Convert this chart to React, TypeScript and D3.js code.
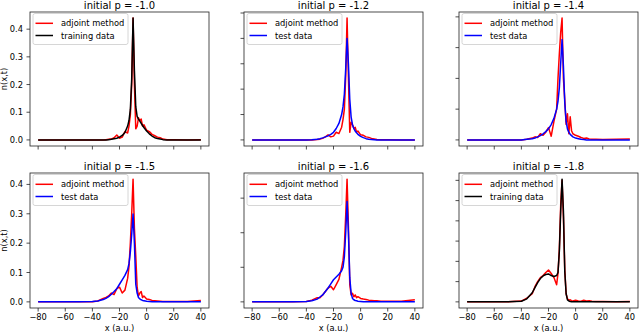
import React from "react";
import * as d3 from "d3";

// shared x grid (a.u.)
const xGrid = [-80, -50, -40, -36, -32, -30, -28, -26, -24, -22, -20, -18, -16, -14, -13, -12, -11, -10, -9, -8, -7, -6, -5, -4, -3, -2, 0, 2, 4, 6, 8, 10, 12, 15, 20, 30, 40];

// p = -1.0
const adjoint10 = [0, 0, 0, 0, 0, 0.001, 0.002, 0.003, 0.008, 0.018, 0.006, 0.01, 0.03, 0.025, 0.05, 0.09, 0.2, 0.44, 0.2, 0.04, 0.05, 0.08, 0.07, 0.075, 0.05, 0.055, 0.035, 0.03, 0.02, 0.015, 0.01, 0.008, 0.003, 0.001, 0.001, 0, 0.001];
const train10 = [0, 0, 0, 0, 0, 0, 0.001, 0.002, 0.004, 0.006, 0.01, 0.016, 0.027, 0.05, 0.07, 0.11, 0.22, 0.44, 0.25, 0.12, 0.085, 0.075, 0.068, 0.06, 0.052, 0.045, 0.032, 0.022, 0.014, 0.008, 0.005, 0.003, 0.001, 0, 0, 0, 0];
// p = -1.2
const adjoint12 = [0, 0, 0, 0, 0.002, 0.003, 0.006, 0.012, 0.02, 0.012, 0.015, 0.03, 0.025, 0.05, 0.08, 0.12, 0.25, 0.48, 0.25, 0.03, 0.07, 0.06, 0.045, 0.05, 0.03, 0.035, 0.02, 0.018, 0.012, 0.01, 0.006, 0.004, 0.002, 0.001, 0.001, 0, 0];
const test12 = [0, 0, 0, 0.001, 0.003, 0.005, 0.008, 0.012, 0.016, 0.022, 0.03, 0.045, 0.065, 0.1, 0.13, 0.18, 0.28, 0.4, 0.3, 0.16, 0.09, 0.06, 0.045, 0.035, 0.028, 0.022, 0.014, 0.009, 0.005, 0.003, 0.002, 0.001, 0, 0, 0, 0, 0];
// p = -1.4
const adjoint14 = [0, 0, 0, 0.002, 0.006, 0.01, 0.008, 0.02, 0.015, 0.025, 0.04, 0.012, 0.06, 0.1, 0.2, 0.28, 0.35, 0.396, 0.2, 0.13, 0.05, 0.085, 0.02, 0.075, 0.03, 0.02, 0.015, 0.012, 0.008, 0.005, 0.006, 0.003, 0.002, 0.002, 0.001, 0.002, 0.003];
const test14 = [0, 0, 0, 0.002, 0.004, 0.006, 0.01, 0.014, 0.02, 0.027, 0.036, 0.05, 0.07, 0.1, 0.125, 0.17, 0.25, 0.326, 0.24, 0.12, 0.06, 0.035, 0.025, 0.018, 0.014, 0.01, 0.006, 0.004, 0.002, 0.001, 0, 0, 0, 0, 0, 0, 0];
// p = -1.5
const adjoint15 = [0, 0, 0, 0.003, 0.012, 0.015, 0.02, 0.03, 0.025, 0.045, 0.05, 0.03, 0.04, 0.08, 0.12, 0.2, 0.3, 0.418, 0.25, 0.155, 0.05, 0.02, 0.03, 0.035, 0.015, 0.02, 0.01, 0.008, 0.005, 0.004, 0.003, 0.002, 0.001, 0.001, 0.001, 0.001, 0.005];
const test15 = [0, 0, 0.001, 0.003, 0.008, 0.012, 0.018, 0.026, 0.035, 0.045, 0.06, 0.075, 0.09, 0.11, 0.13, 0.17, 0.23, 0.299, 0.2, 0.06, 0.03, 0.015, 0.01, 0.007, 0.005, 0.004, 0.002, 0.001, 0, 0, 0, 0, 0, 0, 0, 0, 0];
// p = -1.6
const adjoint16 = [0, 0, 0.001, 0.005, 0.012, 0.012, 0.02, 0.03, 0.04, 0.045, 0.035, 0.05, 0.065, 0.1, 0.12, 0.16, 0.25, 0.355, 0.22, 0.05, 0.02, 0.025, 0.015, 0.02, 0.012, 0.015, 0.01, 0.008, 0.007, 0.005, 0.004, 0.003, 0.003, 0.002, 0.002, 0.002, 0.006];
const test16 = [0, 0, 0.001, 0.003, 0.008, 0.014, 0.02, 0.03, 0.04, 0.052, 0.064, 0.072, 0.08, 0.09, 0.1, 0.13, 0.2, 0.29, 0.2, 0.07, 0.025, 0.01, 0.006, 0.004, 0.003, 0.002, 0.001, 0, 0, 0, 0, 0, 0, 0, 0, 0, 0];
// p = -1.8
const adjoint18 = [0, 0, 0.004, 0.018, 0.04, 0.075, 0.1, 0.12, 0.13, 0.145, 0.157, 0.14, 0.12, 0.085, 0.14, 0.26, 0.48, 0.6, 0.42, 0.16, 0.04, 0.015, 0.008, 0.01, 0.006, 0.004, 0.008, 0.004, 0.003, 0.008, 0.004, 0.006, 0.003, 0.002, 0.002, 0.001, 0.002];
const train18 = [0, 0, 0.003, 0.015, 0.045, 0.07, 0.095, 0.115, 0.128, 0.135, 0.138, 0.13, 0.125, 0.13, 0.145, 0.25, 0.45, 0.606, 0.45, 0.15, 0.04, 0.01, 0.004, 0.002, 0.001, 0.001, 0, 0, 0, 0, 0, 0, 0, 0, 0, 0, 0];

const titles = ["initial p = -1.0", "initial p = -1.2", "initial p = -1.4", "initial p = -1.5", "initial p = -1.6", "initial p = -1.8"];
const refLabels = ["training data", "test data", "test data", "test data", "test data", "training data"];
const xTicks = [-80, -60, -40, -20, 0, 20, 40];

const panels = [
  { adj: adjoint10, ref: train10, color: "#000000" },
  { adj: adjoint12, ref: test12, color: "#0000ff" },
  { adj: adjoint14, ref: test14, color: "#0000ff" },
  { adj: adjoint15, ref: test15, color: "#0000ff" },
  { adj: adjoint16, ref: test16, color: "#0000ff" },
  { adj: adjoint18, ref: train18, color: "#000000" },
];

const W = 640, H = 332;
const colX = [[30, 209], [244, 423], [459, 638]];
const rowY = [[12, 146], [173, 308]];
const font = "DejaVu Sans, sans-serif";

function Panel({ i }: { i: number }) {
  const p = panels[i];
  const col = i % 3, row = Math.floor(i / 3);
  const [x0, x1] = colX[col];
  const [y0, y1] = rowY[row];
  const ymax = d3.max([...p.adj, ...p.ref]) as number;
  const x = d3.scaleLinear().domain([-86, 46]).range([x0, x1]);
  const y = d3.scaleLinear().domain([-0.05 * ymax, ymax * 1.05]).range([y1, y0]);
  const yTicks = d3.range(0, ymax * 1.05 + 1e-9, 0.1);
  const line = d3.line<number>().x((d, k) => x(xGrid[k])).y((d) => y(d));
  const lx = x0 + 3, ly = y0 + 1.5;

  return (
    <g>
      <clipPath id={`clip${i}`}>
        <rect x={x0} y={y0} width={x1 - x0} height={y1 - y0} />
      </clipPath>
      <g clipPath={`url(#clip${i})`}>
        <path d={line(p.adj) || ""} fill="none" stroke="#ff0000" strokeWidth={1.5} strokeLinejoin="round" />
        <path d={line(p.ref) || ""} fill="none" stroke={p.color} strokeWidth={1.5} strokeLinejoin="round" />
      </g>
      <rect x={x0} y={y0} width={x1 - x0} height={y1 - y0} fill="none" stroke="#222" strokeWidth={0.8} />
      {xTicks.map((t) => (
        <g key={t}>
          <line x1={x(t)} x2={x(t)} y1={y1} y2={y1 + 3.5} stroke="#222" strokeWidth={0.8} />
          {row === 1 && (
            <text x={x(t)} y={y1 + 11.5} textAnchor="middle" fontSize={8.3} fontFamily={font}>
              {t < 0 ? "\u2212" + Math.abs(t) : t}
            </text>
          )}
        </g>
      ))}
      {yTicks.map((t) => (
        <g key={t}>
          <line x1={x0 - 3.5} x2={x0} y1={y(t)} y2={y(t)} stroke="#222" strokeWidth={0.8} />
          {col === 0 && (
            <text x={x0 - 7} y={y(t) + 3} textAnchor="end" fontSize={8.3} fontFamily={font}>
              {t.toFixed(1)}
            </text>
          )}
        </g>
      ))}
      <text x={(x0 + x1) / 2} y={y0 - 3.5} textAnchor="middle" fontSize={10} fontFamily={font}>
        {titles[i]}
      </text>
      {col === 0 && (
        <text transform={`translate(6.5,${(y0 + y1) / 2}) rotate(-90)`} textAnchor="middle" fontSize={8.3} fontFamily={font}>
          n(x,t)
        </text>
      )}
      {row === 1 && (
        <text x={(x0 + x1) / 2} y={330.5} textAnchor="middle" fontSize={8.3} fontFamily={font}>
          x (a.u.)
        </text>
      )}
      <rect x={lx} y={ly} width={95} height={31} rx={2} fill="#fff" fillOpacity={0.8} stroke="#ccc" strokeWidth={0.8} />
      <line x1={lx + 2.5} x2={lx + 20} y1={ly + 9.8} y2={ly + 9.8} stroke="#ff0000" strokeWidth={1.5} />
      <text x={lx + 28} y={ly + 12.8} fontSize={8.3} fontFamily={font}>adjoint method</text>
      <line x1={lx + 2.5} x2={lx + 20} y1={ly + 22} y2={ly + 22} stroke={p.color} strokeWidth={1.5} />
      <text x={lx + 28} y={ly + 25} fontSize={8.3} fontFamily={font}>{refLabels[i]}</text>
    </g>
  );
}

export default function App() {
  return (
    <svg width={W} height={H} style={{ position: "absolute", left: 0, top: 0, background: "#fff" }}>
      <rect width={W} height={H} fill="#fff" />
      {panels.map((_, i) => (
        <Panel key={i} i={i} />
      ))}
    </svg>
  );
}
